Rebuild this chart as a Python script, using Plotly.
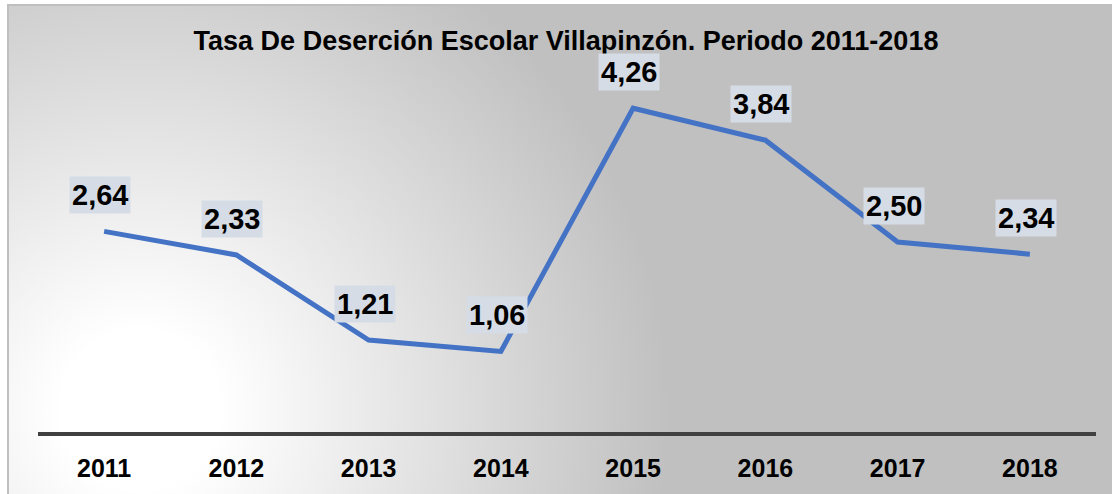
import base64
import plotly.graph_objects as go

years = ["2011", "2012", "2013", "2014", "2015", "2016", "2017", "2018"]
rates = [2.64, 2.33, 1.21, 1.06, 4.26, 3.84, 2.50, 2.34]
title_text = "Tasa De Deserción Escolar Villapinzón. Periodo 2011-2018"

W, H = 1112, 494
ML, MR, MT, MB = 38, 16, 52, 62
PW, PH = W - ML - MR, H - MT - MB

FONT = "Arial, Liberation Sans, sans-serif"

svg = f"""<svg xmlns='http://www.w3.org/2000/svg' width='{W}' height='{H}' viewBox='0 0 {W} {H}'>
<defs><radialGradient id='g' gradientUnits='userSpaceOnUse' cx='140' cy='410' r='530'>
<stop offset='0' stop-color='#FFFFFF'/><stop offset='0.15' stop-color='#FFFFFF'/>
<stop offset='1' stop-color='#C0C0C0'/></radialGradient></defs>
<rect x='0' y='0' width='{W}' height='{H}' fill='#FFFFFF'/>
<rect x='8' y='5' width='{W}' height='{H}' fill='url(#g)' stroke='#BFBFBF' stroke-width='2'/>
</svg>"""
src = "data:image/svg+xml;base64," + base64.b64encode(svg.encode()).decode()

fig = go.Figure()
fig.add_trace(go.Scatter(
    x=years, y=rates, mode="lines",
    line=dict(color="#4472C4", width=5),
    hoverinfo="skip", showlegend=False,
))

annotations = []
for i, v in enumerate(rates):
    annotations.append(dict(
        x=i, y=v, xref="x", yref="y",
        text="<b>" + f"{v:.2f}".replace(".", ",") + "</b>",
        showarrow=False, xshift=-4, yshift=36,
        font=dict(family=FONT, size=29, color="#000000"),
        bgcolor="#D6DCE5", borderpad=2,
    ))

fig.update_layout(
    width=W, height=H,
    margin=dict(l=ML, r=MR, t=MT, b=MB, pad=0),
    paper_bgcolor="#FFFFFF", plot_bgcolor="rgba(0,0,0,0)",
    annotations=annotations,
    images=[dict(
        source=src, xref="paper", yref="paper",
        x=-ML / PW, y=(PH + MT) / PH, sizex=W / PW, sizey=H / PH,
        xanchor="left", yanchor="top", sizing="stretch", layer="below",
    )],
    title=dict(text=f"<b>{title_text}</b>", x=(566 - ML) / PW, xref="paper", xanchor="center",
               y=1 - 41 / H, yanchor="middle",
               font=dict(family=FONT, size=27, color="#000000")),
    xaxis=dict(
        type="category", range=[-0.5, 7.5], showgrid=False, zeroline=False,
        showline=True, linecolor="#404040", linewidth=4, ticks="",
        tickfont=dict(family=FONT, size=25, color="#000000"),
        tickprefix="<b>", ticksuffix="</b>",
        ticklabelstandoff=11,
    ),
    yaxis=dict(range=[0, 5], visible=True, showticklabels=False, showline=False,
               ticks="", showgrid=False, zeroline=False),
)

fig.write_html("out.html", config={"displayModeBar": False},
               post_script="document.body.style.margin='0';")
